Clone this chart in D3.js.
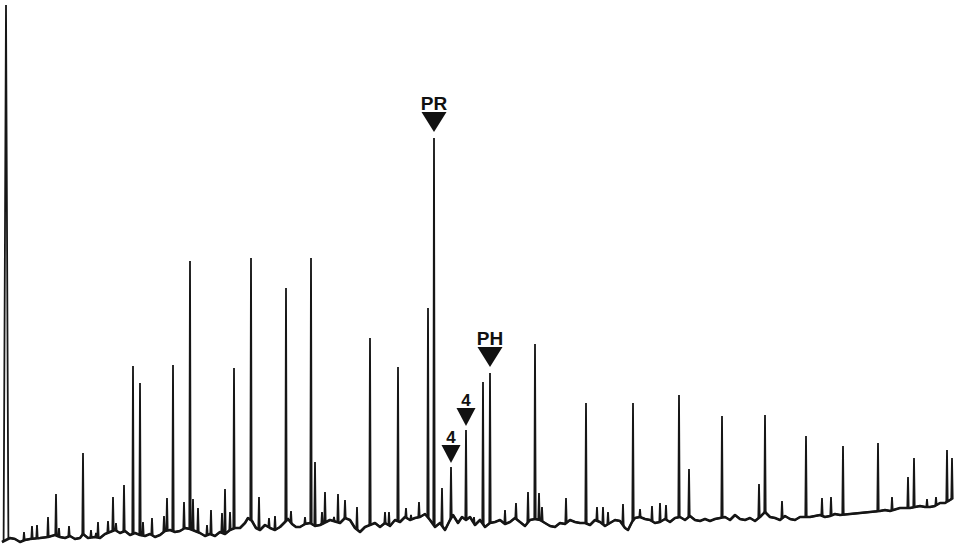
<!DOCTYPE html>
<html>
<head>
<meta charset="utf-8">
<script src="https://cdn.jsdelivr.net/npm/d3@7"></script>
<style>
  body { margin: 0; background: #fff; }
  svg { display: block; }
</style>
</head>
<body>
<div id="chart"></div>
<script>
// retention time (min) and detector response (%)
var baseline = [
  [0.1, -0.4], [0.5, 0.4], [0.75, 0.2], [1.0, -0.4], [1.25, 0], [1.5, 0.2], [2.0, 0.4], [2.4, 0.6],
  [2.75, 1.0], [3.0, 0.6], [3.25, 0.4], [3.5, 0.8], [3.75, 0.2], [4.0, 0.4], [4.15, 1.2], [4.4, 0.4],
  [4.75, 0.6], [5.0, 0.4], [5.25, 1.2], [5.5, 1.6], [5.75, 2.0], [6.0, 1.4], [6.25, 1.8], [6.5, 1.0],
  [6.75, 1.4], [7.0, 1.0], [7.25, 0.8], [7.5, 1.2], [7.75, 0.6], [8.0, 1.0], [8.25, 1.8], [8.5, 2.0],
  [8.75, 1.6], [9.0, 1.8], [9.25, 2.4], [9.5, 2.2], [9.75, 1.8], [10.0, 1.4], [10.25, 0.8], [10.5, 1.2],
  [10.75, 0.8], [11.0, 1.6], [11.25, 1.2], [11.5, 2.0], [11.75, 2.4], [12.0, 2.4], [12.25, 3.4], [12.4, 4.4],
  [12.6, 3.8], [12.8, 2.4], [13.0, 2.0], [13.25, 3.0], [13.5, 2.4], [13.75, 2.0], [14.0, 2.6], [14.25, 3.6],
  [14.4, 4.2], [14.6, 3.2], [14.8, 2.6], [15.0, 2.6], [15.25, 3.2], [15.5, 3.4], [15.75, 2.8], [16.0, 3.0],
  [16.5, 4.0], [17.0, 3.4], [17.25, 4.4], [17.5, 4.0], [17.75, 2.4], [18.0, 1.6], [18.25, 2.6], [18.5, 3.0],
  [18.75, 3.4], [19.0, 2.6], [19.25, 3.4], [19.5, 2.8], [19.75, 4.0], [20.0, 3.6], [20.25, 4.6], [20.5, 4.0],
  [20.75, 4.4], [21.0, 4.6], [21.25, 5.2], [21.5, 4.0], [21.75, 2.6], [22.0, 3.4], [22.25, 2.0], [22.5, 4.0],
  [22.65, 5.0], [22.9, 3.4], [23.1, 4.6], [23.3, 4.0], [23.5, 4.6], [23.75, 3.0], [24.0, 4.0], [24.25, 2.6],
  [24.5, 3.4], [24.75, 3.6], [25.0, 4.0], [25.25, 3.2], [25.5, 3.6], [25.75, 4.4], [26.0, 3.6], [26.25, 2.8],
  [26.5, 4.0], [26.75, 4.2], [27.0, 4.0], [27.25, 3.4], [27.5, 2.8], [27.75, 2.6], [28.0, 3.4], [28.25, 3.2],
  [28.5, 4.0], [28.75, 3.6], [29.0, 3.4], [29.25, 3.4], [29.5, 3.0], [29.75, 4.0], [30.0, 3.6], [30.25, 2.8],
  [30.5, 3.4], [30.75, 4.0], [31.0, 3.8], [31.25, 2.4], [31.4, 2.0], [31.6, 3.6], [31.75, 4.4], [32.0, 4.6],
  [32.25, 4.2], [32.5, 4.0], [32.75, 3.4], [33.0, 3.6], [33.25, 4.2], [33.5, 3.6], [33.75, 4.4], [34.0, 4.6],
  [34.25, 4.0], [34.5, 4.8], [34.75, 4.0], [35.0, 3.8], [35.25, 4.2], [35.5, 3.8], [35.75, 4.2], [36.0, 4.4],
  [36.25, 4.6], [36.5, 4.0], [36.75, 5.0], [37.0, 4.2], [37.25, 4.0], [37.5, 4.4], [37.75, 3.8], [38.0, 4.6],
  [38.25, 5.6], [38.5, 4.6], [38.75, 4.4], [39.0, 4.0], [39.25, 4.8], [39.5, 4.2], [39.75, 4.0], [40.0, 4.6],
  [40.5, 4.6], [41.0, 5.0], [41.25, 4.6], [41.5, 4.8], [41.75, 5.2], [42.0, 5.0], [42.5, 5.2], [43.0, 5.4],
  [43.5, 5.6], [44.0, 5.8], [44.25, 6.0], [44.5, 5.8], [45.0, 6.4], [45.5, 6.4], [46.0, 6.8], [46.25, 6.6],
  [46.5, 6.6], [46.75, 6.8], [47.0, 7.4], [47.25, 7.4], [47.5, 8.0], [47.65, 8.4]
];

// peak apex: [retention time, response]
var peaks = [
  [0.3, 107], [1.2, 1.6], [1.6, 2.8], [1.85, 3.0], [2.4, 4.6], [2.8, 9.2], [2.95, 2.4], [3.45, 2.8],
  [4.15, 17.4], [4.55, 2.0], [4.8, 1.4], [4.9, 3.6], [5.4, 3.8], [5.65, 8.6], [5.8, 3.4], [6.2, 11.0],
  [6.65, 34.8], [7.0, 31.4], [7.15, 3.6], [7.6, 4.4], [8.2, 4.8], [8.35, 8.4], [8.65, 35.0], [9.2, 7.6],
  [9.5, 55.8], [9.65, 8.2], [9.9, 6.4], [10.35, 3.0], [10.55, 6.0], [11.1, 5.4], [11.25, 10.2], [11.5, 5.6],
  [11.7, 34.4], [12.55, 56.4], [12.95, 8.6], [13.45, 4.4], [13.75, 4.8], [14.3, 50.4], [14.55, 5.8], [15.25, 4.6],
  [15.55, 56.4], [15.75, 15.6], [16.1, 5.6], [16.25, 9.6], [16.7, 4.6], [16.9, 9.2], [17.25, 8.0], [17.85, 6.6],
  [18.5, 40.4], [19.25, 5.6], [19.45, 5.6], [19.9, 34.6], [20.3, 6.4], [20.55, 5.0], [20.95, 7.6], [21.4, 46.4],
  [21.7, 80.4], [22.1, 10.4], [22.55, 14.6], [23.3, 22.0], [23.7, 4.6], [24.15, 31.6], [24.5, 33.4], [25.25, 6.0],
  [25.8, 7.4], [26.4, 9.6], [26.75, 39.2], [26.95, 9.4], [27.1, 6.6], [28.3, 8.4], [29.3, 27.4], [29.85, 6.6],
  [30.15, 6.6], [30.4, 5.6], [31.15, 7.2], [31.65, 27.4], [32.0, 6.2], [32.6, 6.8], [33.0, 7.4], [33.3, 7.0],
  [33.95, 29.0], [34.45, 14.2], [36.1, 24.8], [37.95, 11.2], [38.25, 25.0], [39.1, 7.8], [40.3, 20.8], [41.1, 8.4],
  [41.55, 8.6], [42.15, 18.8], [43.9, 19.4], [44.6, 8.6], [45.4, 12.6], [45.7, 16.4], [46.35, 8.2], [46.8, 8.6],
  [47.35, 18.0], [47.6, 16.4]
];

// labelled peaks
var markerLabels = ["PR", "4", "4", "PH"];
var markerTimes = [21.7, 22.55, 23.3, 24.5];

var width = 961, height = 545;

var svg = d3.select("#chart")
    .append("svg")
        .attr("width", width)
        .attr("height", height);

var x = d3.scaleLinear().domain([0, 48]).range([0, 960]);
var y = d3.scaleLinear().domain([0, 107]).range([540, 5]);

// baseline value at any time
var bx = baseline.map(function (d) { return d[0]; });
function baseAt(t) {
    var i = d3.bisectLeft(bx, t);
    if (i <= 0) return baseline[0][1];
    if (i >= baseline.length) return baseline[baseline.length - 1][1];
    var a = baseline[i - 1], b = baseline[i];
    return a[1] + (b[1] - a[1]) * (t - a[0]) / (b[0] - a[0]);
}

// build the trace: baseline with narrow spikes
function halfWidth(p) { return p[1] > 100 ? 0.12 : 0.035; }
var pts = baseline.filter(function (b) {
    return !peaks.some(function (p) { return Math.abs(b[0] - p[0]) < halfWidth(p); });
});
peaks.forEach(function (p) {
    var w = halfWidth(p);
    pts.push([p[0] - w, baseAt(p[0] - w)]);
    pts.push([p[0], p[1]]);
    pts.push([p[0] + w, baseAt(p[0] + w)]);
});
pts.sort(function (a, b) { return a[0] - b[0]; });

var line = d3.line()
    .x(function (d) { return x(d[0]); })
    .y(function (d) { return y(d[1]); });

svg.append("path")
    .datum(baseline)
    .attr("d", line)
    .attr("fill", "none")
    .attr("stroke", "#161616")
    .attr("stroke-width", 2.6)
    .attr("stroke-linejoin", "round");

svg.append("path")
    .datum(pts)
    .attr("d", line)
    .attr("fill", "none")
    .attr("stroke", "#161616")
    .attr("stroke-width", 1.8)
    .attr("stroke-linejoin", "bevel");

// triangle markers with labels
markerTimes.forEach(function (t, i) {
    var p = peaks.find(function (d) { return d[0] === t; });
    var big = markerLabels[i].length > 1;
    var tw = big ? 12.5 : 9.5, th = big ? 20 : 18;
    var cx = x(t), tip = y(p[1]) - (big ? 6 : 4);
    var g = svg.append("g");
    g.append("path")
        .attr("d", "M" + (cx - tw) + "," + (tip - th) + "L" + (cx + tw) + "," + (tip - th) + "L" + cx + "," + tip + "Z")
        .attr("fill", "#111");
    g.append("text")
        .attr("x", cx)
        .attr("y", tip - th - 2)
        .attr("text-anchor", "middle")
        .style("font-family", "'Liberation Sans', Arial, sans-serif")
        .style("font-weight", "bold")
        .style("font-size", big ? "19px" : "17px")
        .style("fill", "#111")
        .text(markerLabels[i]);
});
</script>
</body>
</html>
